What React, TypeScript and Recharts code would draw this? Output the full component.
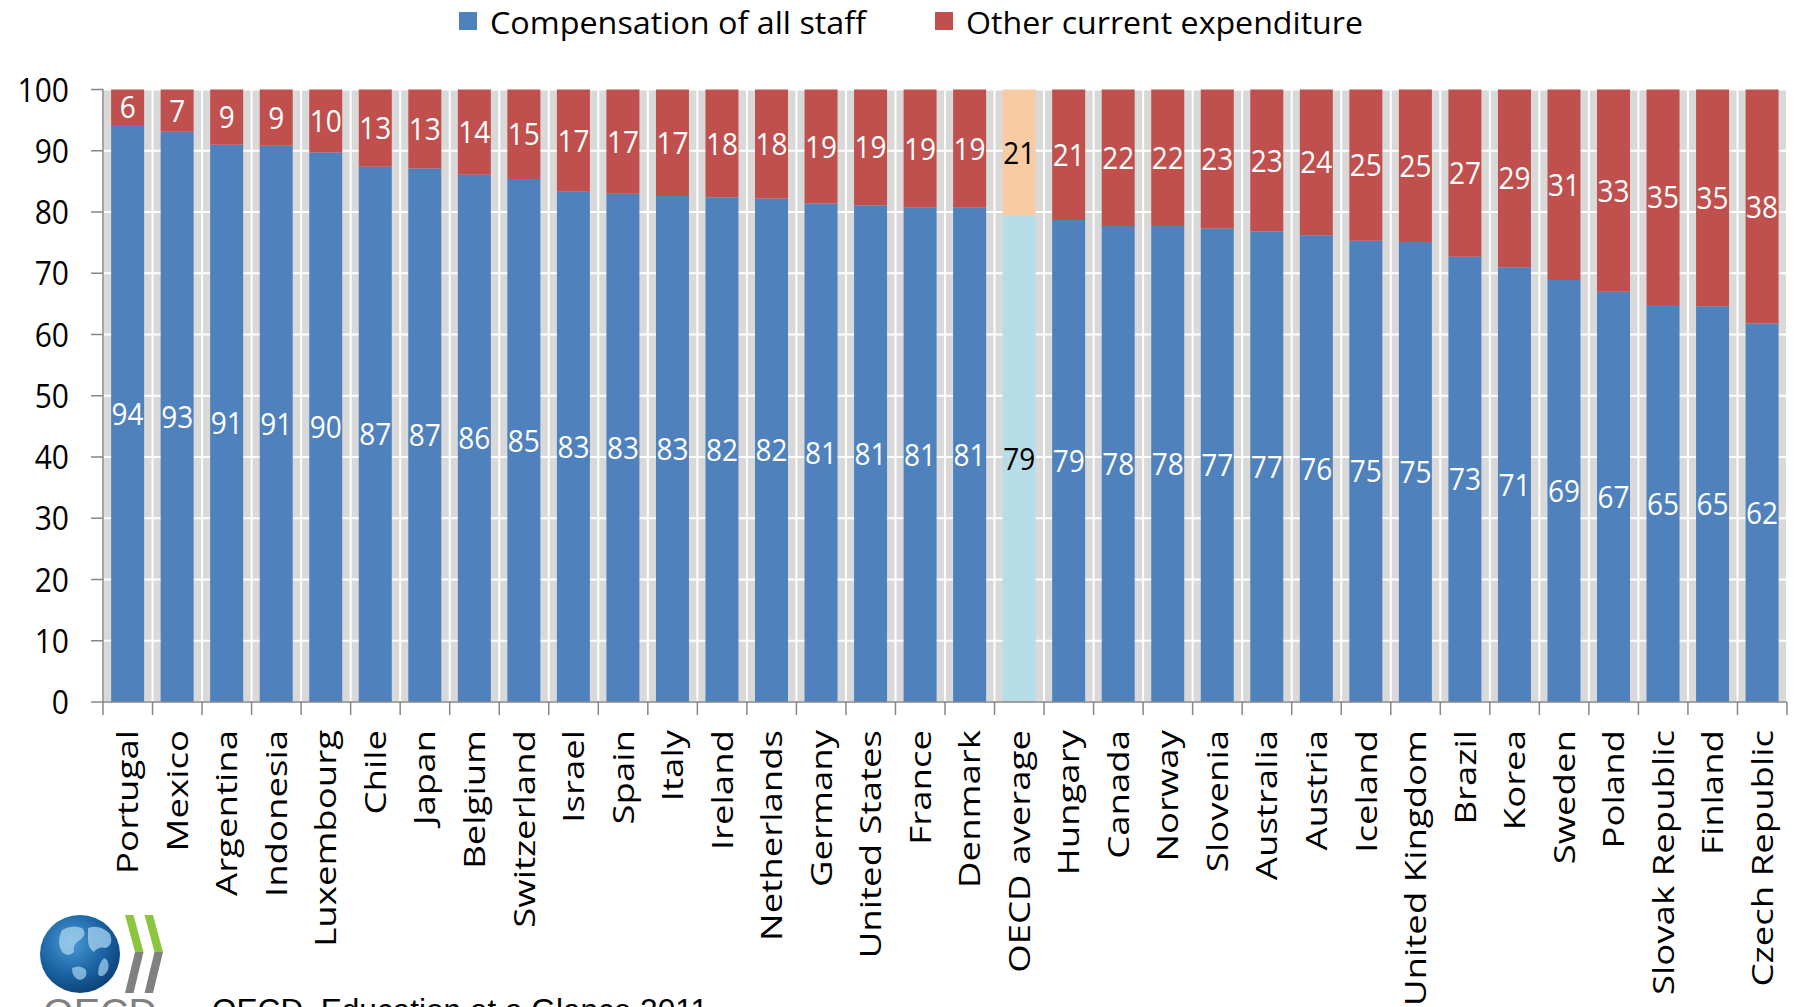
import { BarChart, Bar, XAxis, YAxis, CartesianGrid, Cell, LabelList } from 'recharts'

// share of current expenditure (rounded values are printed)
const countries = [
  'Portugal', 'Mexico', 'Argentina', 'Indonesia', 'Luxembourg', 'Chile', 'Japan', 'Belgium',
  'Switzerland', 'Israel', 'Spain', 'Italy', 'Ireland', 'Netherlands', 'Germany', 'United States',
  'France', 'Denmark', 'OECD average', 'Hungary', 'Canada', 'Norway', 'Slovenia', 'Australia',
  'Austria', 'Iceland', 'United Kingdom', 'Brazil', 'Korea', 'Sweden', 'Poland', 'Slovak Republic',
  'Finland', 'Czech Republic',
]
const staff = [
  94.2, 93.1, 91.0, 90.8, 89.7, 87.4, 87.1, 86.1, 85.4, 83.3, 83.0, 82.6, 82.4, 82.2, 81.4, 81.1,
  80.7, 80.7, 79.4, 78.7, 77.7, 77.7, 77.3, 76.8, 76.2, 75.3, 75.1, 72.7, 71.0, 68.9, 67.0, 64.8,
  64.6, 61.8,
]
const other = [
  5.8, 6.9, 9.0, 9.2, 10.3, 12.6, 12.9, 13.9, 14.6, 16.7, 17.0, 17.4, 17.6, 17.8, 18.6, 18.9,
  19.3, 19.3, 20.6, 21.3, 22.3, 22.3, 22.7, 23.2, 23.8, 24.7, 24.9, 27.3, 29.0, 31.1, 33.0, 35.2,
  35.4, 38.2,
]
const yTicks = [0, 10, 20, 30, 40, 50, 60, 70, 80, 90, 100]
const seriesNames = ['Compensation of all staff', 'Other current expenditure']
const sourceText = 'OECD, Education at a Glance 2011'
const AVG = 'OECD average'

const W = 1799
const H = 1007
const PLOT_LEFT = 103
const PLOT_RIGHT = 1787
const PLOT_TOP = 89.5
const PLOT_BOTTOM = 702
const BAND = (PLOT_RIGHT - PLOT_LEFT) / countries.length
const TICK_LEN = 13
const TICK_GAP = 15

const BLUE = '#4f81bd'
const RED = '#c0504d'
const AVG_BLUE = '#b7dee8'
const AVG_RED = '#f8cba3'
const AXIS = '#868686'
const FONT = '"Open Sans", sans-serif'

const data = countries.map((c, i) => ({ country: c, staff: staff[i], other: other[i] }))
const boundaries = countries.map((_, i) => PLOT_LEFT + i * BAND).concat(PLOT_RIGHT)

function CountryTick(props: any) {
  const { x, y, payload, index } = props
  const axisY = y - TICK_LEN - TICK_GAP
  const half = BAND / 2
  return (
    <g>
      <line x1={x - half} x2={x - half} y1={axisY} y2={axisY + TICK_LEN} stroke={AXIS} strokeWidth={1.5} />
      {index === countries.length - 1 && (
        <line x1={x + half} x2={x + half} y1={axisY} y2={axisY + TICK_LEN} stroke={AXIS} strokeWidth={1.5} />
      )}
      <text
        transform={`translate(${x},${y}) scale(1,1.22) rotate(-90)`}
        textAnchor="end"
        dy="0.35em"
        fontSize={30}
        fontFamily={FONT}
        fill="#000"
      >
        {payload.value}
      </text>
    </g>
  )
}

function ValueTick(props: any) {
  const { x, y, payload } = props
  return (
    <text
      transform={`translate(${x},${y}) scale(1,1.12)`}
      textAnchor="end"
      dy="0.36em"
      fontSize={30}
      fontFamily={FONT}
      fill="#000"
    >
      {payload.value}
    </text>
  )
}

const renderValue = (props: any) => {
  const { x, y, width, height, value, index } = props
  return (
    <text
      transform={`translate(${x + width / 2},${y + height / 2}) scale(1,1.1)`}
      dy="0.36em"
      textAnchor="middle"
      fontSize={28}
      fontFamily={FONT}
      fill={countries[index] === AVG ? '#000' : '#fff'}
    >
      {Math.round(value)}
    </text>
  )
}

function Overlay() {
  return (
    <svg width={W} height={H} style={{ position: 'absolute', left: 0, top: 0, pointerEvents: 'none' }}>
      <defs>
        <radialGradient id="globe" cx="40%" cy="35%" r="70%">
          <stop offset="0%" stopColor="#4a9ad6" />
          <stop offset="60%" stopColor="#1a63a3" />
          <stop offset="100%" stopColor="#0b3f73" />
        </radialGradient>
      </defs>
      {/* legend */}
      <rect x={459} y={12} width={18} height={18} fill={BLUE} />
      <text x={490} y={33.5} fontSize={30.5} fontFamily={FONT} fill="#000" textLength={376} lengthAdjust="spacingAndGlyphs">
        {seriesNames[0]}
      </text>
      <rect x={935} y={12} width={18} height={18} fill={RED} />
      <text x={966} y={33.5} fontSize={30.5} fontFamily={FONT} fill="#000" textLength={397} lengthAdjust="spacingAndGlyphs">
        {seriesNames[1]}
      </text>
      {/* logo */}
      <ellipse cx={80} cy={954} rx={40} ry={39} fill="url(#globe)" />
      <path d="M62 930 q10 -6 20 -2 q6 6 -2 12 q-8 4 -6 12 q-6 6 -12 0 q-6 -10 0 -22z" fill="#a8d4ef" opacity={0.75} />
      <path d="M88 928 q12 -4 22 6 q4 10 -4 14 q-8 -2 -12 4 q-6 -4 -6 -12z" fill="#a8d4ef" opacity={0.75} />
      <path d="M72 968 q8 -4 14 2 q2 8 -6 10 q-8 -2 -8 -12z" fill="#a8d4ef" opacity={0.7} />
      <path d="M104 958 q6 2 4 12 q-6 10 -10 4 q0 -10 6 -16z" fill="#a8d4ef" opacity={0.7} />
      <polygon points="125,915 133.5,915 143.5,952 135,952" fill="#8cc63f" />
      <polygon points="135,952 143.5,952 133.5,993 125,993" fill="#808080" />
      <polygon points="144.5,915 153,915 163,952 154.5,952" fill="#8cc63f" />
      <polygon points="154.5,952 163,952 153,993 144.5,993" fill="#808080" />
      <text x={43} y={1026} fontSize={39.5} fontFamily='"Liberation Sans", Arial, sans-serif' fill="#808080" textLength={114} lengthAdjust="spacingAndGlyphs">
        OECD
      </text>
      <text x={212} y={1021} fontSize={31.4} fontFamily='"Liberation Sans", Arial, sans-serif' fill="#000" textLength={496} lengthAdjust="spacingAndGlyphs">
        {sourceText}
      </text>
    </svg>
  )
}

export default function App() {
  return (
    <div style={{ position: 'absolute', left: 0, top: 0, width: W, height: H, background: '#fff', overflow: 'hidden' }}>
      <BarChart
        width={W}
        height={H}
        data={data}
        margin={{ top: PLOT_TOP, right: W - PLOT_RIGHT, bottom: 0, left: 0 }}
        barCategoryGap="16.4%"
      >
        <CartesianGrid fill="#d9d9d9" fillOpacity={1} stroke="#fff" strokeWidth={2} verticalPoints={boundaries} />
        <XAxis
          dataKey="country"
          type="category"
          interval={0}
          height={H - PLOT_BOTTOM}
          tickLine={false}
          tickSize={TICK_LEN}
          tickMargin={TICK_GAP}
          axisLine={{ stroke: AXIS, strokeWidth: 1.5 }}
          tick={<CountryTick />}
        />
        <YAxis
          type="number"
          domain={[0, 100]}
          ticks={yTicks}
          width={PLOT_LEFT}
          tickSize={12}
          tickMargin={22}
          interval={0}
          axisLine={{ stroke: AXIS, strokeWidth: 1.5 }}
          tickLine={{ stroke: AXIS, strokeWidth: 1.5 }}
          tick={<ValueTick />}
        />
        <Bar dataKey="staff" name={seriesNames[0]} stackId="a" fill={BLUE} isAnimationActive={false}>
          {data.map((d) => (
            <Cell key={d.country} fill={d.country === AVG ? AVG_BLUE : BLUE} />
          ))}
          <LabelList dataKey="staff" content={renderValue} />
        </Bar>
        <Bar dataKey="other" name={seriesNames[1]} stackId="a" fill={RED} isAnimationActive={false}>
          {data.map((d) => (
            <Cell key={d.country} fill={d.country === AVG ? AVG_RED : RED} />
          ))}
          <LabelList dataKey="other" content={renderValue} />
        </Bar>
      </BarChart>
      <Overlay />
    </div>
  )
}
